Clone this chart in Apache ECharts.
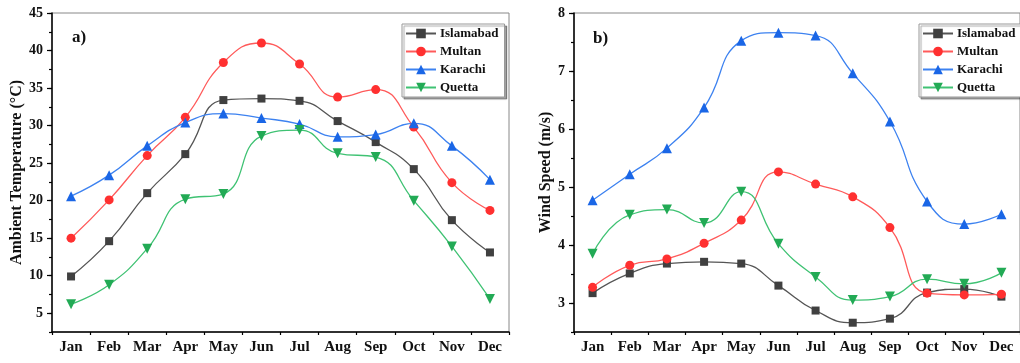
<!DOCTYPE html>
<html><head><meta charset="utf-8">
<script src="https://cdn.jsdelivr.net/npm/echarts@6/dist/echarts.min.js"></script>
<style>html,body{margin:0;padding:0;background:#fff}#c{width:1020px;height:363px}</style>
</head><body><div id="c"></div>
<script>
const months = ['Jan','Feb','Mar','Apr','May','Jun','Jul','Aug','Sep','Oct','Nov','Dec'];
const cities = ['Islamabad','Multan','Karachi','Quetta'];
const tempIslamabad = [9.9,14.6,21.0,26.2,33.4,33.6,33.3,30.6,27.8,24.2,17.4,13.1];
const tempMultan    = [15.0,20.1,26.0,31.1,38.4,41.0,38.2,33.8,34.8,29.8,22.4,18.7];
const tempKarachi   = [20.6,23.4,27.3,30.4,31.6,31.0,30.2,28.5,28.8,30.3,27.3,22.8];
const tempQuetta    = [6.2,8.8,13.6,20.2,20.9,28.6,29.4,26.3,25.8,20.0,13.9,6.9];
const windIslamabad = [3.17,3.51,3.68,3.71,3.68,3.30,2.87,2.66,2.73,3.18,3.24,3.11];
const windMultan    = [3.27,3.65,3.76,4.03,4.43,5.26,5.05,4.83,4.30,3.17,3.14,3.15];
const windKarachi   = [4.77,5.22,5.67,6.37,7.52,7.66,7.61,6.96,6.13,4.75,4.36,4.53];
const windQuetta    = [3.85,4.52,4.61,4.38,4.92,4.02,3.45,3.05,3.11,3.41,3.33,3.52];
const tempTicks = [5,10,15,20,25,30,35,40,45];
const windTicks = [3,4,5,6,7,8];

const styles = {
  Islamabad: {marker:'#404040', line:'#555555', symbol:'rect', size:8},
  Multan:    {marker:'#ff3030', line:'#ff5a5a', symbol:'circle', size:9},
  Karachi:   {marker:'#1a66e6', line:'#3d82f0', symbol:'triangle', size:10},
  Quetta:    {marker:'#22aa55', line:'#3fc273', symbol:'path://M0,0 L10,0 L5,9 Z', size:10}
};
const FONT = '"Liberation Serif","Times New Roman",serif';
const chart = echarts.init(document.getElementById('c'));

function mkSeries(name, data, xi, yi){
  const s = styles[name];
  return {name, type:'line', data, xAxisIndex:xi, yAxisIndex:yi, smooth:0.5,
    symbol:s.symbol, symbolSize:s.size,
    itemStyle:{color:s.marker},
    lineStyle:{color:s.line, width:1.3}, z:3};
}
function mainX(gi){
  return {type:'category', data:months, gridIndex:gi, boundaryGap:true, position:'bottom',
    axisLine:{lineStyle:{color:'#000', width:1.5}},
    axisTick:{alignWithLabel:true, length:5, lineStyle:{color:'#000', width:1.2}},
    axisLabel:{color:'#111', fontFamily:FONT, fontWeight:'bold', fontSize:15, margin:8, interval:0},
    splitLine:{show:false}};
}
function minorX(gi){
  return {type:'category', data:months, gridIndex:gi, boundaryGap:true, position:'bottom',
    axisLine:{show:false},
    axisTick:{show:true, alignWithLabel:false, interval:0, length:3, lineStyle:{color:'#000', width:1.2}},
    axisLabel:{show:false}, splitLine:{show:false}};
}
function mainY(gi, min, max, ticks, name, gap){
  return {type:'value', gridIndex:gi, min, max, position:'left',
    name, nameLocation:'middle', nameGap:gap,
    nameTextStyle:{color:'#111', fontFamily:FONT, fontWeight:'bold', fontSize:16},
    axisLine:{show:true, lineStyle:{color:'#000', width:1.5}},
    axisTick:{show:true, customValues:ticks, length:5, lineStyle:{color:'#000', width:1.2}},
    axisLabel:{customValues:ticks, color:'#111', fontFamily:FONT, fontWeight:'bold', fontSize:14, margin:9},
    splitLine:{show:false}};
}
function minorY(gi, min, max, step){
  return {type:'value', gridIndex:gi, min, max, interval:step, position:'left',
    axisLine:{show:false},
    axisTick:{show:true, length:3, lineStyle:{color:'#000', width:1.2}},
    axisLabel:{show:false}, splitLine:{show:false}};
}
function mkLegend(left){
  return {data:cities, orient:'vertical', left, top:24, itemWidth:30, itemHeight:12, itemGap:5,
    padding:[3,6,3,3], borderColor:'#999', borderWidth:1, backgroundColor:'#fff',
    shadowColor:'rgba(0,0,0,0.35)', shadowOffsetX:2, shadowOffsetY:2, shadowBlur:1,
    textStyle:{color:'#111', fontFamily:FONT, fontWeight:'bold', fontSize:13, padding:[0,0,0,-1]},
    selectedMode:false};
}

const series = [
  mkSeries('Islamabad', tempIslamabad, 0, 0),
  mkSeries('Multan', tempMultan, 0, 0),
  mkSeries('Karachi', tempKarachi, 0, 0),
  mkSeries('Quetta', tempQuetta, 0, 0),
  mkSeries('Islamabad', windIslamabad, 2, 2),
  mkSeries('Multan', windMultan, 2, 2),
  mkSeries('Karachi', windKarachi, 2, 2),
  mkSeries('Quetta', windQuetta, 2, 2)
];

chart.setOption({
  animation:false,
  grid:[
    {left:52, top:13, width:457, height:319, show:true, borderColor:'#888', borderWidth:1},
    {left:574, top:13, width:456, height:319, show:true, borderColor:'#888', borderWidth:1}
  ],
  xAxis:[mainX(0), minorX(0), mainX(1), minorX(1)],
  yAxis:[
    mainY(0, 2.5, 45, tempTicks, 'Ambient Temperature (°C)', 27),
    minorY(0, 2.5, 45, 2.5),
    mainY(1, 2.5, 8, windTicks, 'Wind Speed (m/s)', 20),
    minorY(1, 2.5, 8, 0.5)
  ],
  legend:[mkLegend(402), mkLegend(919)],
  graphic:[
    {type:'text', left:72, top:29, style:{text:'a)', font:'bold 17px '+FONT, fill:'#111'}},
    {type:'text', left:593, top:30, style:{text:'b)', font:'bold 17px '+FONT, fill:'#111'}}
  ],
  series
});
</script></body></html>
